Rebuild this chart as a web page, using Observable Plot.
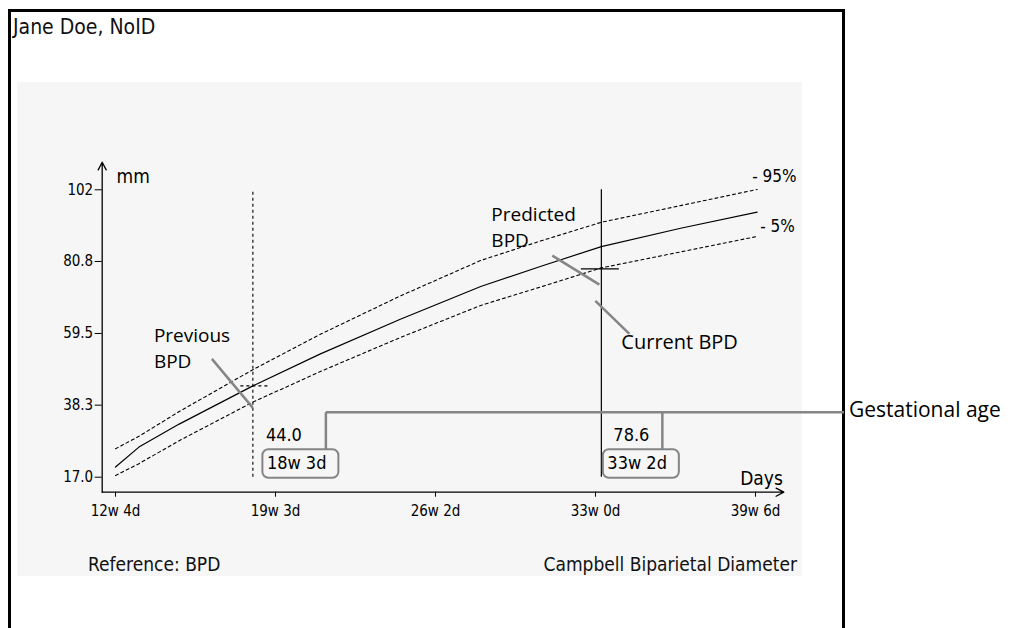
<!DOCTYPE html>
<html>
<head>
<meta charset="utf-8">
<script src="https://cdn.jsdelivr.net/npm/d3@7"></script>
<script src="https://cdn.jsdelivr.net/npm/@observablehq/plot@0.6"></script>
<style>
  html, body { margin: 0; padding: 0; background: #fff; }
  #wrap { position: relative; width: 1012px; height: 628px; overflow: hidden; background: #fff; font-family: "DejaVu Sans Condensed", "DejaVu Sans", sans-serif; }
  #frame { position: absolute; left: 8px; top: 9px; width: 837px; height: 700px; box-sizing: border-box; border: 3px solid #000; }
  #panel { position: absolute; left: 17px; top: 82px; width: 785px; height: 494px; background: #f6f6f6; }
  #title { position: absolute; left: 13px; top: 13px; font-size: 21px; line-height: 28px; color: #111; white-space: nowrap; }
  .foot { position: absolute; top: 552px; font-size: 19px; line-height: 24px; color: #111; white-space: nowrap; }
  #chart { position: absolute; left: 0; top: 0; }
</style>
</head>
<body>
<div id="wrap">
  <div id="frame"></div>
  <div id="panel"></div>
  <div id="title">Jane Doe, NoID</div>
  <div class="foot" style="left:88px">Reference: BPD</div>
  <div class="foot" style="right:215px">Campbell Biparietal Diameter</div>
  <div id="chart"></div>
</div>
<script>
// ---- data ----
const curveDays = [88, 95, 107, 129, 149, 173, 197, 215, 233, 257, 279.5];
const meanMM    = [20.0, 25.9, 32.7, 44.0, 53.4, 63.7, 73.4, 79.4, 85.2, 90.7, 95.4];
const p95MM     = [25.4, 29.1, 36.4, 48.8, 59.2, 70.6, 81.1, 86.9, 92.4, 97.4, 102.1];
const p5MM      = [17.5, 21.0, 27.8, 39.2, 48.2, 58.3, 67.8, 73.3, 78.9, 83.7, 88.2];

const xTickDays   = [88, 135.75, 183.5, 231.25, 279];
const xTickLabels = ["12w 4d", "19w 3d", "26w 2d", "33w 0d", "39w 6d"];
const yTickValues = [17.0, 38.3, 59.5, 80.8, 102];
const yTickLabels = ["17.0", "38.3", "59.5", "80.8", "102"];

const prevDay = 129, prevValue = 44.0, prevLabel = "18w 3d";
const curDay  = 233, curValue  = 78.6, curLabel  = "33w 2d";

// ---- scales / layout ----
const X0 = 84.03, X1 = 287.45, Y0 = 12.56, Y1 = 110.16;
const W = 1012, H = 628;
const mL = 101.7, mR = 228.7, mT = 161.7, mB = 136.3;
const kx = (W - mL - mR) / (X1 - X0);   // px per day
const ky = (H - mT - mB) / (Y1 - Y0);   // px per mm
const dX = p => p / kx, dY = p => p / ky;

const rows = curveDays.map((d, i) => ({d, mean: meanMM[i], p95: p95MM[i], p5: p5MM[i]}));
const xLab = new Map(xTickDays.map((d, i) => [d, xTickLabels[i]]));
const yLab = new Map(yTickValues.map((d, i) => [d, yTickLabels[i]]));
const yMin = yTickValues[0], yMax = yTickValues[yTickValues.length - 1];

const gray = "#858585";
const annFont = "Open Sans";
const first = curveDays[0], last = curveDays[curveDays.length - 1];

// annotation geometry (data units)
const gaY = yMin + dY(65);          // gestational-age bracket line
const boxBot = yMin - dY(1), boxTop = yMin + dY(27.5);
const ann = {textAnchor: "start", fontFamily: annFont, fontSize: 19, fill: "#000"};

const chart = Plot.plot({
  width: W, height: H,
  marginLeft: mL, marginRight: mR, marginTop: mT, marginBottom: mB,
  style: {background: "transparent", fontFamily: "DejaVu Sans Condensed", fontSize: "15px", color: "#000", overflow: "visible"},
  x: {domain: [X0, X1]},
  y: {domain: [Y0, Y1]},
  marks: [
    // axes
    Plot.arrow([{}], {x1: X0, y1: Y0, x2: X1, y2: Y0, stroke: "#000", strokeWidth: 1.3, headLength: 10, headAngle: 55}),
    Plot.arrow([{}], {x1: X0, y1: Y0, x2: X0, y2: Y1, stroke: "#000", strokeWidth: 1.3, headLength: 10, headAngle: 55}),
    Plot.axisX(xTickDays, {anchor: "bottom", tickSize: 5, tickPadding: 8, tickFormat: d => xLab.get(d), label: null, fontSize: 15, stroke: "#000", fill: "#000"}),
    Plot.axisY(yTickValues, {anchor: "left", tickSize: 7, tickPadding: 2, tickFormat: d => yLab.get(d), label: null, fontSize: 15, stroke: "#000", fill: "#000"}),
    Plot.text(["mm"], {x: first, y: Y1, dx: 1, dy: 15, textAnchor: "start", fontSize: 19}),
    Plot.text(["Days"], {x: X1, y: Y0, dx: -1, dy: -13, textAnchor: "end", fontSize: 19}),

    // reference curves
    Plot.line(rows, {x: "d", y: "p95", stroke: "#000", strokeWidth: 1.1, strokeDasharray: "3,3"}),
    Plot.line(rows, {x: "d", y: "p5", stroke: "#000", strokeWidth: 1.1, strokeDasharray: "3,3"}),
    Plot.line(rows, {x: "d", y: "mean", stroke: "#000", strokeWidth: 1.2}),
    Plot.text(["- 95%"], {x: last, y: p95MM[p95MM.length - 1], dx: -5, dy: -13, textAnchor: "start", fontSize: 17}),
    Plot.text(["- 5%"], {x: last, y: p5MM[p5MM.length - 1], dx: 3, dy: -10, textAnchor: "start", fontSize: 17}),

    // previous / current exam lines
    Plot.ruleX([prevDay], {y1: yMin, y2: yMax, stroke: "#000", strokeWidth: 1.1, strokeDasharray: "3,3"}),
    Plot.ruleX([curDay], {y1: yMin, y2: yMax, stroke: "#000", strokeWidth: 1.2}),
    Plot.ruleY([prevValue], {x1: prevDay - dX(12), x2: prevDay + dX(16), stroke: "#000", strokeWidth: 1.1, strokeDasharray: "3,3"}),
    Plot.ruleY([curValue], {x1: curDay - dX(20), x2: curDay + dX(18), stroke: "#000", strokeWidth: 1.3}),

    // value labels and GA boxes
    Plot.text([prevValue.toFixed(1)], {x: prevDay, y: yMin, dx: 13, dy: -42, textAnchor: "start", fontSize: 18}),
    Plot.text([curValue.toFixed(1)], {x: curDay, y: yMin, dx: 12, dy: -42, textAnchor: "start", fontSize: 18}),
    Plot.rect([{}], {x1: prevDay + dX(10), x2: prevDay + dX(86), y1: boxBot, y2: boxTop, rx: 6, fill: "none", stroke: gray, strokeWidth: 2}),
    Plot.rect([{}], {x1: curDay + dX(2), x2: curDay + dX(78), y1: boxBot, y2: boxTop, rx: 6, fill: "none", stroke: gray, strokeWidth: 2}),
    Plot.text([prevLabel], {x: prevDay, y: yMin, dx: 14, dy: -14, textAnchor: "start", fontSize: 18}),
    Plot.text([curLabel], {x: curDay, y: yMin, dx: 6, dy: -14, textAnchor: "start", fontSize: 18}),

    // gestational age bracket
    Plot.link([{}], {x1: prevDay + dX(73), x2: 305.4, y1: gaY, y2: gaY, stroke: gray, strokeWidth: 2.5}),
    Plot.link([{}], {x1: prevDay + dX(73), x2: prevDay + dX(73), y1: gaY, y2: boxTop, stroke: gray, strokeWidth: 2.5}),
    Plot.link([{}], {x1: curDay + dX(61), x2: curDay + dX(61), y1: gaY, y2: boxTop, stroke: gray, strokeWidth: 2.5}),
    Plot.text(["Gestational age"], {...ann, fontSize: 21, x: 305.4, y: gaY, dx: 5, dy: -2}),

    // callouts
    Plot.text(["Previous"], {...ann, x: prevDay, y: prevValue, dx: -99, dy: -50}),
    Plot.text(["BPD"], {...ann, x: prevDay, y: prevValue, dx: -99, dy: -24}),
    Plot.link([{}], {x1: prevDay - dX(41), y1: prevValue + dY(27), x2: prevDay, y2: prevValue - dY(22), stroke: gray, strokeWidth: 2.5}),
    Plot.text(["Predicted"], {...ann, x: curDay, y: meanMM[8], dx: -110, dy: -32}),
    Plot.text(["BPD"], {...ann, x: curDay, y: meanMM[8], dx: -110, dy: -6}),
    Plot.link([{}], {x1: curDay - dX(49), y1: meanMM[8] - dY(9), x2: curDay - dX(2), y2: meanMM[8] - dY(38), stroke: gray, strokeWidth: 2.5}),
    Plot.link([{}], {x1: curDay - dX(6), y1: curValue - dY(32), x2: curDay + dX(28), y2: curValue - dY(65), stroke: gray, strokeWidth: 2.5}),
    Plot.text(["Current BPD"], {...ann, fontSize: 20, x: curDay, y: curValue, dx: 20, dy: 74})
  ]
});
document.getElementById("chart").appendChild(chart);
</script>
</body>
</html>
